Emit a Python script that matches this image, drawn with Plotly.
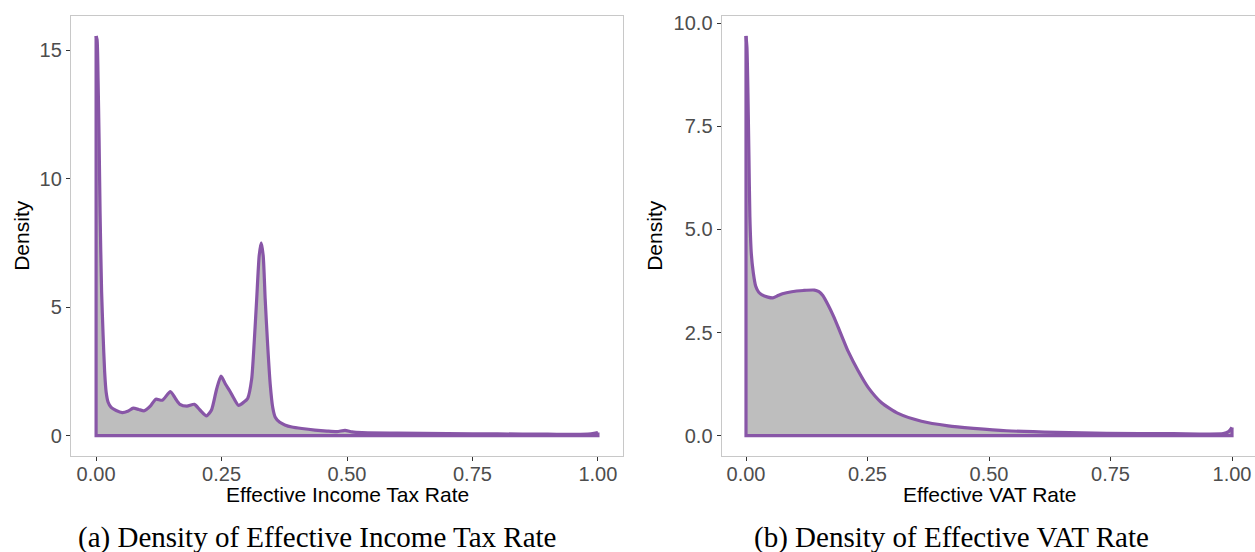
import plotly.graph_objects as go

# ---- data ----
income_rate = [0.000, 0.002, 0.004, 0.006, 0.008, 0.011, 0.014, 0.017, 0.020, 0.024,
               0.030, 0.040, 0.052, 0.063, 0.074, 0.085, 0.096, 0.108, 0.119, 0.132,
               0.148, 0.158, 0.167, 0.181, 0.196, 0.207, 0.220, 0.230, 0.240, 0.249,
               0.258, 0.267, 0.276, 0.284, 0.294, 0.302, 0.310, 0.315, 0.320, 0.325,
               0.329, 0.333, 0.337, 0.342, 0.347, 0.352, 0.357, 0.366, 0.376, 0.390,
               0.410, 0.436, 0.460, 0.480, 0.496, 0.510, 0.530, 0.600, 0.700, 0.800,
               0.900, 0.980, 0.995, 1.000]
income_density = [15.55, 15.40, 13.80, 11.50, 8.60, 5.60, 3.90, 2.50, 1.70, 1.30,
                  1.10, 0.98, 0.90, 0.95, 1.07, 1.02, 0.97, 1.15, 1.42, 1.38,
                  1.72, 1.45, 1.22, 1.15, 1.22, 1.00, 0.77, 1.00, 1.80, 2.32,
                  2.00, 1.72, 1.40, 1.18, 1.30, 1.45, 2.20, 3.60, 5.30, 7.00,
                  7.50, 7.00, 5.30, 3.50, 2.00, 1.10, 0.72, 0.52, 0.42, 0.34,
                  0.28, 0.22, 0.18, 0.16, 0.21, 0.15, 0.12, 0.10, 0.08, 0.07,
                  0.06, 0.06, 0.10, 0.12]

vat_rate = [0.000, 0.002, 0.004, 0.006, 0.008, 0.011, 0.015, 0.020, 0.026, 0.032,
            0.045, 0.055, 0.065, 0.075, 0.094, 0.118, 0.141, 0.150, 0.158, 0.169,
            0.180, 0.190, 0.200, 0.210, 0.231, 0.252, 0.279, 0.313, 0.361, 0.416,
            0.468, 0.536, 0.639, 0.742, 0.879, 0.982, 0.993, 1.000]
vat_density = [9.69, 9.40, 8.30, 6.80, 5.30, 4.40, 3.95, 3.62, 3.48, 3.42,
               3.36, 3.34, 3.39, 3.44, 3.49, 3.52, 3.53, 3.49, 3.40, 3.17,
               2.90, 2.62, 2.33, 2.05, 1.57, 1.16, 0.80, 0.54, 0.35, 0.24,
               0.18, 0.12, 0.08, 0.06, 0.05, 0.05, 0.10, 0.20]

x_ticks = [0, 0.25, 0.5, 0.75, 1.0]
x_ticklabels = ["0.00", "0.25", "0.50", "0.75", "1.00"]
income_yticks = [0, 5, 10, 15]
income_yticklabels = ["0", "5", "10", "15"]
vat_yticks = [0, 2.5, 5, 7.5, 10]
vat_yticklabels = ["0.0", "2.5", "5.0", "7.5", "10.0"]

x_titles = ["Effective Income Tax Rate", "Effective VAT Rate"]
captions = ["(a) Density of Effective Income Tax Rate", "(b) Density of Effective VAT Rate"]

LINE = "#8856A7"
FILL = "#BEBEBE"
BORDER = "#C8C8C8"
W, H = 1255, 552

fig = go.Figure()
for xs, ys, xa, ya in [(income_rate, income_density, "x", "y"),
                       (vat_rate, vat_density, "x2", "y2")]:
    # smooth density curve, filled down to zero
    fig.add_trace(go.Scatter(x=xs, y=ys, mode="lines", fill="tozeroy",
                             fillcolor=FILL,
                             line=dict(color=LINE, width=3.2, shape="spline", smoothing=0.6),
                             xaxis=xa, yaxis=ya, showlegend=False, hoverinfo="skip"))
    # closing outline of the polygon: left edge, baseline, right edge
    fig.add_trace(go.Scatter(x=[xs[0], xs[0], xs[-1], xs[-1]], y=[ys[0], 0, 0, ys[-1]],
                             mode="lines", line=dict(color=LINE, width=3.2),
                             xaxis=xa, yaxis=ya, showlegend=False, hoverinfo="skip"))

tickfont = dict(family="Liberation Sans, Arial, sans-serif", size=20, color="#4D4D4D")
ydom = [1 - 455 / H, 1 - 12 / H]

common_x = dict(tickvals=x_ticks, ticktext=x_ticklabels, ticks="outside", ticklen=4,
                tickcolor="#333333", tickwidth=1, showgrid=False, zeroline=False,
                showline=True, linecolor=BORDER, linewidth=1.3, mirror=True,
                tickfont=tickfont, ticklabelstandoff=-4)
common_y = dict(ticks="outside", ticklen=4, tickcolor="#333333", tickwidth=1,
                showgrid=False, zeroline=False, showline=True, linecolor=BORDER,
                linewidth=1.3, tickfont=tickfont)

ymax1 = max(income_density)
ymax2 = max(vat_density)

fig.update_layout(
    width=W, height=H, margin=dict(l=0, r=0, t=0, b=0),
    paper_bgcolor="white", plot_bgcolor="white",
    xaxis=dict(domain=[71 / W, 623 / W], range=[-0.05, 1.05], anchor="y", **common_x),
    yaxis=dict(domain=ydom, range=[-0.05 * ymax1, 1.05 * ymax1], anchor="x",
               tickvals=income_yticks, ticktext=income_yticklabels, mirror=True, **common_y),
    xaxis2=dict(domain=[721.7 / W, 1.0], range=[-0.05, (W - 746) / 486], anchor="y2", **common_x),
    yaxis2=dict(domain=ydom, range=[-0.05 * ymax2, 1.05 * ymax2], anchor="x2",
                tickvals=vat_yticks, ticktext=vat_yticklabels, mirror=False, **common_y),
)

titlefont = dict(family="Liberation Sans, Arial, sans-serif", size=21, color="black")
capfont = dict(family="Liberation Serif, Times New Roman, serif", size=29, color="black")

ann = []
# x-axis titles
for xc, t in [(347, x_titles[0]), (990, x_titles[1])]:
    ann.append(dict(x=xc / W, y=1 - 494 / H, xref="paper", yref="paper", text=t,
                    showarrow=False, font=titlefont, xanchor="center", yanchor="middle"))
# y-axis titles
for xc in [22, 655]:
    ann.append(dict(x=xc / W, y=1 - 233.5 / H, xref="paper", yref="paper", text="Density",
                    textangle=-90, showarrow=False, font=titlefont,
                    xanchor="center", yanchor="middle"))
# captions
for xc, t in [(317, captions[0]), (951, captions[1])]:
    ann.append(dict(x=xc / W, y=1 - 537 / H, xref="paper", yref="paper", text=t,
                    showarrow=False, font=capfont, xanchor="center", yanchor="middle"))
fig.update_layout(annotations=ann)

fig.write_html("out.html", config={"displayModeBar": False},
               post_script="document.body.style.margin='0px';")
